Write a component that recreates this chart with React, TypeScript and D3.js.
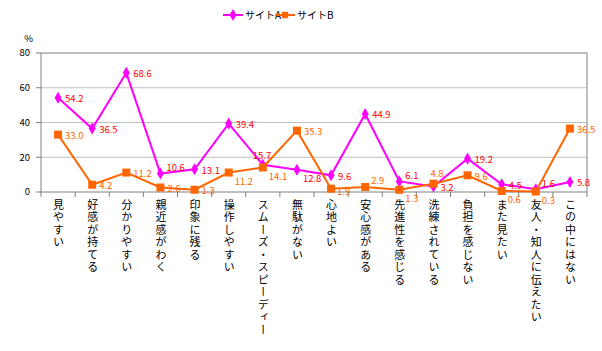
import { line, scaleBand, scaleLinear, symbol, symbolDiamond, symbolSquare } from "d3";

const categories = [
  "見やすい",
  "好感が持てる",
  "分かりやすい",
  "親近感がわく",
  "印象に残る",
  "操作しやすい",
  "スムーズ・スピーディー",
  "無駄がない",
  "心地よい",
  "安心感がある",
  "先進性を感じる",
  "洗練されている",
  "負担を感じない",
  "また見たい",
  "友人・知人に伝えたい",
  "この中にはない",
];

const siteA = [54.2, 36.5, 68.6, 10.6, 13.1, 39.4, 15.7, 12.8, 9.6, 44.9, 6.1, 3.2, 19.2, 4.5, 1.6, 5.8];
const siteB = [33.0, 4.2, 11.2, 2.6, 1.3, 11.2, 14.1, 35.3, 1.9, 2.9, 1.3, 4.8, 9.6, 0.6, 0.3, 36.5];

// where each value label sits: r = right, a = above left, t = above, b = below right, u = up right, d = right a bit low
const placeA = ["r", "r", "r", "u", "r", "r", "a", "b", "r", "r", "u", "r", "r", "r", "u", "r"];
const placeB = ["r", "r", "r", "r", "r", "b", "b", "r", "d", "u", "b", "t", "r", "b", "b", "r"];

const yTicks = [0, 20, 40, 60, 80];

const W = 602;
const H = 351;
const left = 41;
const right = 587;
const top = 53;
const bottom = 192;

const font = "'Noto Sans CJK JP', 'DejaVu Sans', sans-serif";
const magenta = "#FF00FF";
const orange = "#FF6600";

export default function App() {
  const x = scaleBand<string>().domain(categories).range([left, right]);
  const y = scaleLinear().domain([0, 80]).range([bottom, top]);
  const cx = (c: string) => (x(c) as number) + x.bandwidth() / 2;

  const path = line<number>()
    .x((_, i) => cx(categories[i]))
    .y((d) => y(d));

  const diamond = symbol().type(symbolDiamond).size(42)() as string;
  const square = symbol().type(symbolSquare).size(64)() as string;

  const labelPos = (p: string, px: number, py: number) => {
    if (p === "a") return { lx: px - 10, ly: py - 9 };
    if (p === "t") return { lx: px - 3, ly: py - 10 };
    if (p === "b") return { lx: px + 6, ly: py + 9 };
    if (p === "u") return { lx: px + 6, ly: py - 6 };
    if (p === "d") return { lx: px + 6, ly: py + 3 };
    return { lx: px + 7, ly: py + 1 };
  };

  const series = [
    { vals: siteA, color: magenta, text: "#FF0000", place: placeA, mark: diamond },
    { vals: siteB, color: orange, text: orange, place: placeB, mark: square },
  ];

  return (
    <svg width={W} height={H} style={{ display: "block", position: "absolute", left: 0, top: 0 }}>
      <rect width={W} height={H} fill="#fff" />
      {/* grid */}
      {yTicks.slice(1, -1).map((t) => (
        <line key={t} x1={left} x2={right} y1={y(t)} y2={y(t)} stroke="#C0C0C0" strokeWidth={1} />
      ))}
      <rect x={left} y={top} width={right - left} height={bottom - top} fill="none" stroke="#808080" />
      {/* y axis */}
      {yTicks.map((t) => (
        <g key={t}>
          <line x1={left - 5} x2={left} y1={y(t)} y2={y(t)} stroke="#808080" />
          <text x={30} y={y(t)} dy="0.35em" textAnchor="end" fontSize={9.5} fontFamily={font} fill="#000">
            {t}
          </text>
        </g>
      ))}
      <text x={33} y={42} textAnchor="end" fontSize={9.5} fontFamily={font}>
        %
      </text>
      {/* x ticks */}
      {categories.map((c) => (
        <line key={c} x1={x(c) as number} x2={x(c) as number} y1={bottom} y2={bottom + 5} stroke="#808080" />
      ))}
      <line x1={right} x2={right} y1={bottom} y2={bottom + 5} stroke="#808080" />
      {/* category labels */}
      {categories.map((c) => (
        <text
          key={c}
          x={cx(c) + 0.5}
          y={199}
          fontSize={11}
          fontFamily={font}
          fill="#000"
          style={{ writingMode: "vertical-rl", letterSpacing: "1.5px" }}
        >
          {c}
        </text>
      ))}
      {/* series */}
      {series.map((s, si) => (
        <g key={si}>
          <path d={path(s.vals) as string} fill="none" stroke={s.color} strokeWidth={2} />
          {s.vals.map((v, i) => (
            <path key={i} d={s.mark} transform={`translate(${cx(categories[i])},${y(v)})`} fill={s.color} />
          ))}
        </g>
      ))}
      {series.map((s, si) => (
        <g key={"l" + si}>
          {s.vals.map((v, i) => {
            const { lx, ly } = labelPos(s.place[i], cx(categories[i]), y(v));
            return (
              <text key={i} x={lx} y={ly} dy="0.35em" fontSize={9.5} fontFamily={font} fill={s.text}>
                {v.toFixed(1)}
              </text>
            );
          })}
        </g>
      ))}
      {/* legend */}
      <g>
        <line x1={223} x2={243} y1={15} y2={15} stroke={magenta} strokeWidth={2} />
        <path d={diamond} transform="translate(233,15)" fill={magenta} />
        <text x={245} y={15} dy="0.35em" fontSize={10} fontFamily={font}>
          サイトA
        </text>
        <line x1={275} x2={295} y1={15} y2={15} stroke={orange} strokeWidth={2} />
        <path d={square} transform="translate(285,15) scale(0.8)" fill={orange} />
        <text x={297} y={15} dy="0.35em" fontSize={10} fontFamily={font}>
          サイトB
        </text>
      </g>
    </svg>
  );
}
